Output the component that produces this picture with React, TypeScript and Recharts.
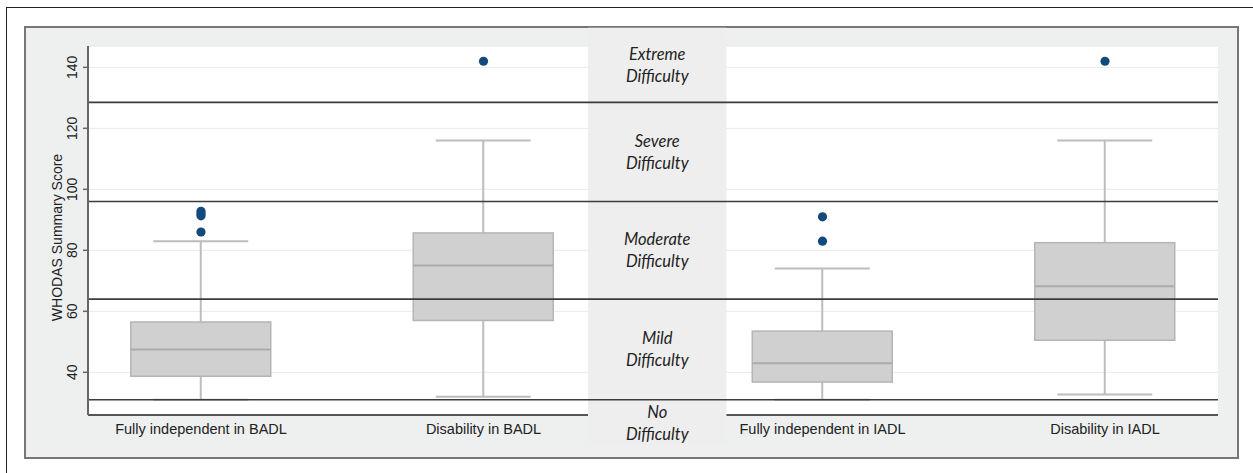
import React from 'react';
import { ComposedChart, Bar, Scatter, XAxis, YAxis, CartesianGrid, ReferenceArea, ReferenceLine, Label } from 'recharts';

// box plot statistics, one entry per group
const categories = ['Fully independent in BADL', 'Disability in BADL', 'Fully independent in IADL', 'Disability in IADL'];
const whiskerLow = [31, 32, 31, 32.7];
const quartile1 = [38.7, 57, 36.8, 50.5];
const medians = [47.5, 75, 43, 68.2];
const quartile3 = [56.5, 85.7, 53.5, 82.5];
const whiskerHigh = [83, 116, 74, 116];
const outliers = [[92.8, 92, 91.3, 86], [142], [91, 83], [142]];

// WHODAS severity bands
const cutPoints = [31, 64, 96, 128.5];
const zoneNames = [
  ['No', 'Difficulty'],
  ['Mild', 'Difficulty'],
  ['Moderate', 'Difficulty'],
  ['Severe', 'Difficulty'],
  ['Extreme', 'Difficulty'],
];
const yTicks = [40, 60, 80, 100, 120, 140];

// layout
const slots = [1, 2, 3.2, 4.2];
const xDomain: [number, number] = [0.6, 4.6];
const yDomain: [number, number] = [26, 147];
const bandX: [number, number] = [2.37, 2.86];
const bandY: [number, number] = [16, 153];

const boxTable = categories.map((name, i) => ({
  pos: slots[i],
  name,
  min: whiskerLow[i],
  q1: quartile1[i],
  median: medians[i],
  q3: quartile3[i],
  max: whiskerHigh[i],
}));

const outlierTable = outliers.flatMap((vals, i) => vals.map((v) => ({ pos: slots[i], value: v })));

const zoneEdges = [bandY[0], ...cutPoints, bandY[1]];

const FONT = '"Liberation Sans", Arial, sans-serif';
const WHISKER = '#bdbdbd';

const BoxShape = (props: any) => {
  const { x, y, width, height, payload } = props;
  const { min, q1, median, q3, max } = payload;
  const py = (v: number) => y + ((max - v) / (max - min)) * height;
  const cx = x + width / 2;
  const cap = 95;
  return (
    <g>
      <line x1={cx} x2={cx} y1={py(max)} y2={py(q3)} stroke={WHISKER} strokeWidth={2} />
      <line x1={cx} x2={cx} y1={py(q1)} y2={py(min)} stroke={WHISKER} strokeWidth={2} />
      <line x1={cx - cap / 2} x2={cx + cap / 2} y1={py(max)} y2={py(max)} stroke={WHISKER} strokeWidth={2} />
      <line x1={cx - cap / 2} x2={cx + cap / 2} y1={py(min)} y2={py(min)} stroke={WHISKER} strokeWidth={2} />
      <rect x={x} y={py(q3)} width={width} height={py(q1) - py(q3)} fill="#d0d0d0" stroke="#b5b5b5" strokeWidth={1.5} />
      <line x1={x} x2={x + width} y1={py(median)} y2={py(median)} stroke="#ababab" strokeWidth={2} />
    </g>
  );
};

const YTick = ({ x, y, payload }: any) => (
  <text
    x={x - 6}
    y={y}
    transform={`rotate(-90 ${x - 6} ${y})`}
    textAnchor="middle"
    fontSize={14}
    fontFamily={FONT}
    fill="#222"
  >
    {payload.value}
  </text>
);

const XTick = ({ x, y, payload }: any) => {
  const i = slots.indexOf(payload.value);
  return (
    <text x={x} y={y + 19} textAnchor="middle" fontSize={14.5} fontFamily={FONT} fill="#222">
      {i >= 0 ? categories[i] : ''}
    </text>
  );
};

const zoneLabel = (lines: string[]) => (p: any) => {
  const vb = p.viewBox || {};
  const cx = vb.x + vb.width / 2;
  const cy = vb.y + vb.height / 2;
  return (
    <text textAnchor="middle" fontSize={16.5} fontStyle="italic" fontFamily="Lato, sans-serif" fill="#222">
      <tspan x={cx} y={cy - 5}>{lines[0]}</tspan>
      <tspan x={cx} y={cy + 17}>{lines[1]}</tspan>
    </text>
  );
};

const YTitle = (p: any) => {
  const vb = p.viewBox || {};
  const tx = vb.x + 34;
  const ty = vb.y + vb.height / 2 + 7;
  return (
    <text x={tx} y={ty} transform={`rotate(-90 ${tx} ${ty})`} textAnchor="middle" fontSize={14} fontFamily={FONT} fill="#222">
      WHODAS Summary Score
    </text>
  );
};

export default function App() {
  return (
    <div style={{ position: 'absolute', left: 0, top: 0, width: 1253, height: 473, overflow: 'hidden', background: '#fff' }}>
      <div style={{ position: 'absolute', left: 6, top: 7, width: 1260, height: 480, border: '1.5px solid #222', boxSizing: 'border-box' }} />
      <div
        style={{
          position: 'absolute',
          left: 24,
          top: 26,
          width: 1215,
          height: 433,
          border: '2.5px solid #777',
          background: '#eef0f0',
          boxSizing: 'border-box',
        }}
      />
      <div style={{ position: 'absolute', left: 0, top: 0 }}>
        <ComposedChart width={1253} height={473} data={boxTable} margin={{ top: 46, right: 35, bottom: 18, left: 28 }}>
          <CartesianGrid vertical={false} stroke="#e6eaea" fill="#ffffff" fillOpacity={1} />
          <XAxis
            type="number"
            dataKey="pos"
            domain={xDomain}
            ticks={slots}
            allowDataOverflow
            height={40}
            axisLine={false}
            tickLine={false}
            tickSize={0}
            tickMargin={0}
            tick={<XTick />}
            interval={0}
          />
          <YAxis
            type="number"
            domain={yDomain}
            ticks={yTicks}
            allowDataOverflow
            width={60}
            axisLine={{ stroke: '#666', strokeWidth: 2 }}
            tickLine={{ stroke: '#666', strokeWidth: 1.5 }}
            tickSize={5}
            tickMargin={0}
            tick={<YTick />}
            interval={0}
          >
            <Label content={YTitle} />
          </YAxis>
          {zoneNames.map((lines, i) => (
            <ReferenceArea
              key={lines[0]}
              x1={bandX[0]}
              x2={bandX[1]}
              y1={zoneEdges[i]}
              y2={zoneEdges[i + 1]}
              fill="#eeeeee"
              fillOpacity={1}
              stroke="none"
              ifOverflow="visible"
              label={zoneLabel(lines)}
            />
          ))}
          <ReferenceLine
            segment={[{ x: xDomain[0], y: yDomain[0] }, { x: bandX[0], y: yDomain[0] }]}
            stroke="#555"
            strokeWidth={2}
          />
          <ReferenceLine
            segment={[{ x: bandX[1], y: yDomain[0] }, { x: xDomain[1], y: yDomain[0] }]}
            stroke="#555"
            strokeWidth={2}
          />
          <Bar dataKey={(d: any) => [d.min, d.max]} barSize={140} shape={BoxShape} isAnimationActive={false} />
          {cutPoints.map((c) => (
            <ReferenceLine key={c} y={c} stroke="#3c3c3c" strokeWidth={1.6} />
          ))}
          <Scatter
            data={outlierTable}
            dataKey="value"
            isAnimationActive={false}
            shape={(p: any) => <circle cx={p.cx} cy={p.cy} r={4.6} fill="#134a7c" />}
          />
        </ComposedChart>
      </div>
    </div>
  );
}
